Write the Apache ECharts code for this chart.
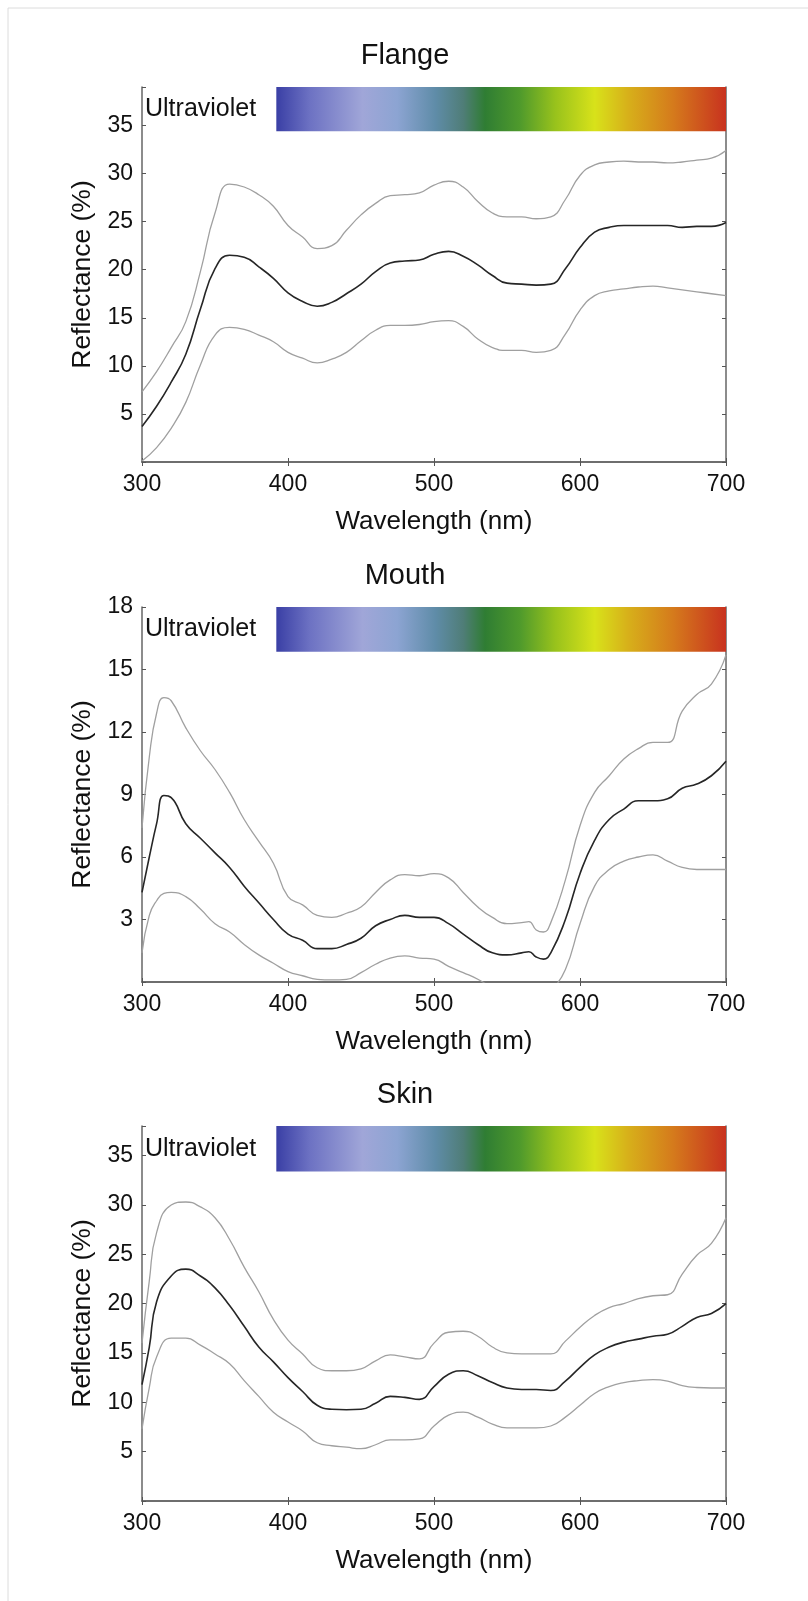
<!DOCTYPE html>
<html><head><meta charset="utf-8">
<script src="https://cdn.jsdelivr.net/npm/echarts@6/dist/echarts.min.js"></script>
<style>html,body{margin:0;padding:0;background:#fff}#c{width:808px;height:1601px}</style>
</head><body><div id="c"></div>
<script>
// ---------- DATA ----------
const panelTitles = ['Flange', 'Mouth', 'Skin'];
const xTicks = [300, 400, 500, 600, 700];
const yMaxes = [39, 18, 38];
const yIntervals = [5, 3, 5];
const barLows = [34.4, 15.85, 33.4];        // lower edge of spectrum bar (in % units)
const barStartWl = 392;                      // spectrum bar starts here (nm)
const uvLabel = 'Ultraviolet';

const flangeWl = [300,310,320,330,340,350,360,370,380,390,400,410,420,430,440,450,460,470,480,490,500,510,520,530,540,550,560,570,580,590,600,610,620,630,640,650,660,670,680,690,700];
const flangeMean  = [3.7,5.8,8.3,11.2,15.9,20.1,21.5,21.3,20.3,19.1,17.6,16.7,16.2,16.6,17.5,18.5,19.8,20.7,20.9,21.0,21.6,21.9,21.4,20.5,19.4,18.6,18.5,18.4,18.5,20.1,22.3,23.9,24.4,24.6,24.6,24.6,24.6,24.4,24.5,24.5,24.9];
const flangeUpper = [7.3,9.4,11.9,14.6,19.8,25.9,28.9,28.6,27.8,26.6,24.6,23.4,22.2,22.5,24.1,25.7,26.9,27.7,27.8,28.0,28.8,29.2,28.6,27.1,25.9,25.5,25.5,25.3,25.5,27.3,29.8,30.9,31.2,31.3,31.2,31.2,31.1,31.2,31.4,31.6,32.4];
const flangeLower = [0.1,1.5,3.5,6.2,10.1,13.2,14.0,13.8,13.2,12.5,11.4,10.8,10.3,10.7,11.4,12.6,13.7,14.2,14.2,14.3,14.6,14.7,14.1,12.8,11.9,11.6,11.6,11.4,11.6,13.3,15.8,17.3,17.8,18.0,18.2,18.3,18.1,17.9,17.7,17.5,17.3];

const mouthWl = [300,305,310,315,320,330,340,350,360,370,380,390,400,410,420,430,440,450,460,470,480,490,500,510,520,530,540,550,560,565,570,575,580,590,600,610,620,630,640,650,660,670,680,690,700];
const mouthMean  = [4.3,6.0,7.6,8.95,8.85,7.6,6.9,6.2,5.5,4.6,3.8,3.0,2.3,2.0,1.6,1.6,1.8,2.1,2.7,3.0,3.2,3.1,3.1,2.8,2.3,1.8,1.4,1.3,1.4,1.45,1.2,1.1,1.4,3.0,5.2,6.8,7.8,8.3,8.7,8.7,8.8,9.3,9.5,9.9,10.6];
const mouthUpper = [7.4,10.8,12.9,13.65,13.5,12.2,11.1,10.2,9.1,7.8,6.75,5.7,4.1,3.7,3.2,3.1,3.3,3.6,4.3,4.9,5.15,5.1,5.2,5.0,4.3,3.6,3.1,2.8,2.85,2.9,2.5,2.4,2.85,4.9,7.5,9.1,9.9,10.7,11.2,11.5,11.5,13.0,13.8,14.3,15.7];
const mouthLower = [1.4,3.2,3.9,4.25,4.3,4.1,3.5,2.8,2.4,1.8,1.3,0.9,0.5,0.3,0.13,0.1,0.13,0.45,0.85,1.15,1.25,1.15,1.1,0.75,0.45,0.13,-0.3,-0.8,-1.1,-1.15,-1.2,-1.0,-0.5,0.6,2.8,4.6,5.4,5.8,6.0,6.1,5.8,5.5,5.4,5.4,5.4];

const skinWl = [300,305,310,320,330,340,350,360,370,380,390,400,410,420,430,440,450,460,470,480,490,500,510,520,530,540,550,560,570,580,590,600,610,620,630,640,650,660,670,680,690,700];
const skinMean  = [11.8,15.6,20.2,22.8,23.5,22.8,21.6,19.8,17.7,15.6,14.1,12.5,11.1,9.7,9.3,9.25,9.3,9.9,10.6,10.5,10.3,11.6,12.85,13.2,12.7,12.0,11.45,11.3,11.3,11.2,12.15,13.55,14.8,15.6,16.1,16.4,16.7,16.9,17.7,18.6,19.0,20.0];
const skinUpper = [16.0,22.3,27.2,30.0,30.3,29.8,28.7,26.5,23.7,21.2,18.4,16.3,14.9,13.5,13.2,13.2,13.4,14.2,14.8,14.6,14.4,16.0,17.1,17.2,16.7,15.6,15.0,14.9,14.9,14.9,16.2,17.6,18.8,19.6,20.0,20.5,20.8,20.9,23.0,24.9,26.1,28.7];
const skinLower = [7.3,11.5,14.6,16.5,16.5,15.8,14.9,13.9,12.2,10.6,9.0,8.0,7.1,5.9,5.6,5.45,5.3,5.7,6.2,6.2,6.3,7.6,8.7,9.0,8.5,7.8,7.4,7.4,7.4,7.6,8.5,9.7,10.9,11.6,12.0,12.2,12.3,12.15,11.7,11.5,11.45,11.45];

// spectrum colour stops (position along bar, colour)
const specOffsets = [0, 0.075, 0.192, 0.269, 0.354, 0.416, 0.464, 0.542, 0.620, 0.708, 0.782, 0.883, 1];
const specColors  = ['#3a3fa5','#6d72c3','#a0a6d8','#8ca4d2','#5f8ca8','#4f7d77','#2f7d33','#4f9a2c','#98c21c','#d8e21a','#d7b01a','#d57a1c','#c8321f'];

// ---------- BUILD ----------
const panels = [
  {wl: flangeWl, mean: flangeMean, upper: flangeUpper, lower: flangeLower},
  {wl: mouthWl,  mean: mouthMean,  upper: mouthUpper,  lower: mouthLower},
  {wl: skinWl,   mean: skinMean,   upper: skinUpper,   lower: skinLower}
];
const gridTops = [87, 607, 1126];
const FONT = '"Liberation Sans", Arial, Helvetica, sans-serif';

const chart = echarts.init(document.getElementById('c'), null, {renderer: 'canvas'});
const grid = [], xAxis = [], yAxis = [], series = [], title = [];
const axisLine = {show: true, lineStyle: {color: '#666', width: 1.5}};
const tick = {show: true, inside: true, length: 4, lineStyle: {color: '#555', width: 1}};
const gradient = new echarts.graphic.LinearGradient(0, 0, 1, 0,
  specOffsets.map((o, k) => ({offset: o, color: specColors[k]})));

panels.forEach((p, i) => {
  grid.push({left: 142, top: gridTops[i], width: 584, height: 375});
  title.push({text: panelTitles[i], left: 405, top: gridTops[i] - 46, textAlign: 'center', padding: 0,
    textStyle: {fontFamily: FONT, fontSize: 29, fontWeight: 'normal', color: '#111'}});
  xAxis.push({type: 'value', gridIndex: i, min: 300, max: 700, interval: 100, position: 'bottom',
    axisLine, axisTick: tick, splitLine: {show: false},
    axisLabel: {show: true, margin: 11, fontFamily: FONT, fontSize: 23, color: '#111',
      formatter: v => xTicks.includes(v) ? String(v) : ''},
    name: 'Wavelength (nm)', nameLocation: 'middle', nameGap: 47,
    nameTextStyle: {fontFamily: FONT, fontSize: 26, color: '#111'}});
  xAxis.push({type: 'value', gridIndex: i, min: 300, max: 700, interval: 100, position: 'top',
    axisLine, axisTick: tick, splitLine: {show: false}, axisLabel: {show: false}});
  const iv = yIntervals[i];
  yAxis.push({type: 'value', gridIndex: i, min: 0, max: yMaxes[i], interval: iv, position: 'left',
    axisLine, axisTick: tick, splitLine: {show: false},
    axisLabel: {show: true, margin: 9, fontFamily: FONT, fontSize: 23, color: '#111',
      formatter: v => (v > 0 && v % iv === 0) ? String(v) : ''},
    name: 'Reflectance (%)', nameLocation: 'middle', nameGap: 45,
    nameTextStyle: {fontFamily: FONT, fontSize: 26.5, color: '#111'}});
  yAxis.push({type: 'value', gridIndex: i, min: 0, max: yMaxes[i], interval: iv, position: 'right',
    axisLine, axisTick: tick, splitLine: {show: false}, axisLabel: {show: false}});

  const mk = (vals) => p.wl.map((w, k) => [w, vals[k]]);
  const common = {type: 'line', xAxisIndex: 2 * i, yAxisIndex: 2 * i, showSymbol: false,
    smooth: 0.5, clip: true, animation: false, silent: true};
  series.push(Object.assign({}, common, {name: panelTitles[i] + ' upper', data: mk(p.upper),
    lineStyle: {color: '#a0a0a0', width: 1.3}}));
  series.push(Object.assign({}, common, {name: panelTitles[i] + ' lower', data: mk(p.lower),
    lineStyle: {color: '#a0a0a0', width: 1.3}}));
  series.push(Object.assign({}, common, {name: panelTitles[i] + ' mean', data: mk(p.mean),
    lineStyle: {color: '#262626', width: 1.6}, z: 3,
    markArea: {silent: true, animation: false,
      data: [
        [{xAxis: barStartWl, yAxis: barLows[i], itemStyle: {color: gradient, opacity: 1, borderWidth: 0}, label: {show: false}},
         {xAxis: 700, yAxis: yMaxes[i]}],
        [{xAxis: 300, yAxis: barLows[i], name: uvLabel, itemStyle: {color: 'rgba(0,0,0,0)', borderWidth: 0},
          label: {show: true, position: 'insideLeft', distance: 3, fontFamily: FONT, fontSize: 25, color: '#111'}},
         {xAxis: barStartWl, yAxis: yMaxes[i]}]
      ]}}));
});

chart.setOption({
  animation: false,
  backgroundColor: '#fff',
  title, grid, xAxis, yAxis, series,
  graphic: [
    {type: 'line', shape: {x1: 8, y1: 8, x2: 808, y2: 8}, style: {stroke: '#dcdcdc', lineWidth: 1}, silent: true},
    {type: 'line', shape: {x1: 8, y1: 8, x2: 8, y2: 1601}, style: {stroke: '#dcdcdc', lineWidth: 1}, silent: true}
  ]
});
</script></body></html>
